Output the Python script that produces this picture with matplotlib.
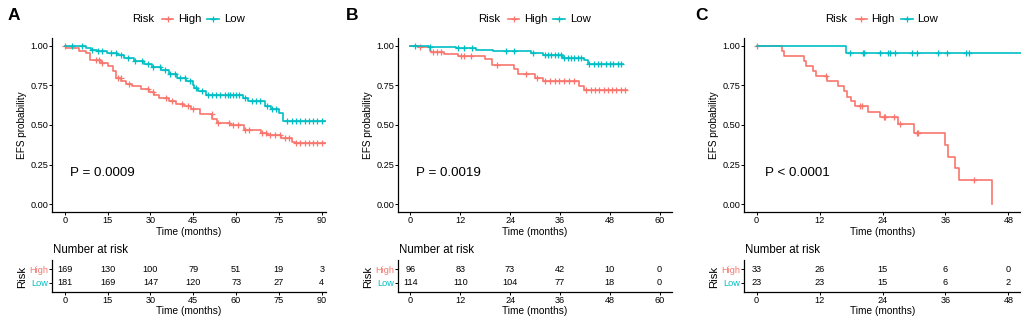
import numpy as np
import matplotlib
matplotlib.use("Agg")
import matplotlib.pyplot as plt
from matplotlib.lines import Line2D

plt.rcParams['font.family'] = ['Liberation Sans', 'DejaVu Sans']

RED = "#F8766D"
TEAL = "#00BFC4"

# ---------------- data ----------------
# panel A
a_high_t = [0, 0.3, 5, 7.3, 8.9, 12.6, 15, 16.7, 17.9, 19.6, 21.4, 23.7, 26.7, 29.6, 31.3, 33.1,
            36.6, 39, 41.9, 44.2, 47.4, 51.7, 53.4, 58, 62.6, 68.6, 71, 75.6, 79.7, 80.5]
a_high_s = [1.0, 0.985, 0.97, 0.955, 0.91, 0.89, 0.875, 0.84, 0.80, 0.78, 0.76, 0.745, 0.725, 0.71, 0.69, 0.67,
            0.65, 0.635, 0.62, 0.60, 0.57, 0.535, 0.514, 0.50, 0.47, 0.45, 0.434, 0.42, 0.394, 0.385]
a_high_cens = [0, 11, 12, 13, 18.5, 19.5, 22.5, 29, 31, 35.5, 37.5, 41, 43, 45, 51.5, 53.5, 57.5, 59, 60.5,
               63, 64.5, 69, 70.5, 72, 73.5, 75.5, 77, 78.5, 81, 82.5, 84, 85.5, 87, 88.5, 90]
a_low_t = [0, 7.3, 9, 11.4, 14.9, 18.3, 20.8, 24.3, 27.8, 30.7, 33.7, 36.6, 39.4, 42.5, 44.8, 45.4,
           46.5, 49.5, 62.3, 64.1, 70, 72.3, 75.2, 76.4]
a_low_s = [1.0, 0.985, 0.975, 0.965, 0.955, 0.94, 0.925, 0.905, 0.885, 0.865, 0.845, 0.82, 0.80, 0.78, 0.755, 0.734,
           0.713, 0.69, 0.67, 0.65, 0.623, 0.604, 0.577, 0.528]
a_low_cens = [2.5, 6, 9.5, 11.5, 13, 16, 18, 19.5, 22, 24.5, 27, 29, 31, 33.5, 35, 37, 38.5, 40.5, 42, 44,
              46, 48, 50, 51.5, 53, 54.5, 56, 57, 58, 59, 60, 61, 63, 65.5, 67, 68.5, 71, 72.5, 74,
              78, 79.5, 81, 82.5, 84, 85.5, 87, 88.5, 90]
a_end = 91.4
a_ticks = [0, 15, 30, 45, 60, 75, 90]
a_risk_high = [169, 130, 100, 79, 51, 19, 3]
a_risk_low = [181, 169, 147, 120, 73, 27, 4]
a_p = "P = 0.0009"

# panel B
b_high_t = [0, 1.8, 4.6, 5, 8.2, 11.4, 18, 19.7, 25, 25.9, 29.9, 31.9, 40.7, 41.7]
b_high_s = [1.0, 0.99, 0.968, 0.96, 0.95, 0.937, 0.918, 0.88, 0.855, 0.82, 0.797, 0.776, 0.744, 0.72]
b_high_cens = [2.2, 5.4, 6.5, 7.4, 12.2, 13, 14.6, 20.9, 27.9, 30.6, 32.3, 33.5, 34.7, 35.9, 37.1, 38.3,
               39.5, 42.3, 43.4, 44.4, 45.5, 46.5, 47.5, 48.6, 49.6, 50.7, 51.7]
b_low_t = [0, 4.5, 11, 15.8, 19.8, 29, 31.9, 36.7, 41.9, 42.7]
b_low_s = [1.0, 0.993, 0.985, 0.975, 0.965, 0.954, 0.94, 0.926, 0.91, 0.888]
b_low_cens = [1, 4.7, 11.4, 13, 14.9, 22.9, 25, 29.5, 32.3, 33.1, 33.9, 34.7, 35.5, 36.3, 37.1, 37.9,
              38.7, 39.5, 40.3, 41.1, 43.1, 44.1, 45.1, 46, 47, 48, 48.9, 49.9, 50.8]
b_end_high = 52.1
b_end_low = 51.2
b_ticks = [0, 12, 24, 36, 48, 60]
b_risk_high = [96, 83, 73, 42, 10, 0]
b_risk_low = [114, 110, 104, 77, 18, 0]
b_p = "P = 0.0019"

# panel C
c_high_t = [0, 4.9, 5.2, 9.0, 9.5, 10.8, 11.3, 13.5, 15.5, 16.7, 17.3, 18.0, 18.8, 21.2, 23.5, 27.0,
            30.0, 36.0, 36.4, 37.9, 38.6, 44.9]
c_high_s = [1.0, 0.97, 0.935, 0.906, 0.874, 0.84, 0.81, 0.778, 0.745, 0.713, 0.68, 0.65, 0.62, 0.585, 0.55, 0.505,
            0.45, 0.375, 0.30, 0.225, 0.15, 0.0]
c_high_cens = [0, 13.2, 19.7, 20.1, 24.2, 24.5, 26.1, 27.3, 30.5, 30.8, 41.5]
c_low_t = [0, 17.1]
c_low_s = [1.0, 0.957]
c_low_cens = [17.8, 20.2, 20.5, 23.5, 25.1, 25.5, 26.4, 29.6, 30.5, 34.5, 36.3, 39.9, 40.4]
c_end_high = 44.9
c_end_low = 52
c_ticks = [0, 12, 24, 36, 48]
c_risk_high = [33, 26, 15, 6, 0]
c_risk_low = [23, 23, 15, 6, 2]
c_p = "P < 0.0001"

# ---------------- figure ----------------
W, H = 1021, 318
fig = plt.figure(figsize=(W / 100, H / 100), dpi=100)


def box(l, t, r, b):
    return [l / W, 1 - b / H, (r - l) / W, (b - t) / H]


def fx(x):
    return x / W


def fy(y):
    return 1 - y / H


def surv_at(times, surv, t):
    i = np.searchsorted(times, t, side='right') - 1
    return surv[max(i, 0)]


def draw_curve(ax, times, surv, end, cens, color):
    x = list(times) + [end]
    y = list(surv) + [surv[-1]]
    ax.step(x, y, where='post', color=color, lw=1.2)
    cy = [surv_at(times, surv, t) for t in cens]
    ax.plot(cens, cy, ls='none', marker='+', ms=3.8, mew=0.9, color=color)


def style_axis(ax):
    for s in ['top', 'right']:
        ax.spines[s].set_visible(False)
    for s in ['left', 'bottom']:
        ax.spines[s].set_linewidth(0.9)
    ax.tick_params(length=2, width=0.7, pad=0.8, labelsize=6.6, colors='black')


panels = [
    dict(letter='A', l=52, r=326, lx=8, px=70, xmax=91.5, ticks=a_ticks,
         high=(a_high_t, a_high_s, a_end, a_high_cens), low=(a_low_t, a_low_s, a_end, a_low_cens),
         rh=a_risk_high, rl=a_risk_low, p=a_p),
    dict(letter='B', l=398, r=672, lx=346, px=416, xmax=63, ticks=b_ticks,
         high=(b_high_t, b_high_s, b_end_high, b_high_cens), low=(b_low_t, b_low_s, b_end_low, b_low_cens),
         rh=b_risk_high, rl=b_risk_low, p=b_p),
    dict(letter='C', l=744, r=1021, lx=695, px=765, xmax=50.4, ticks=c_ticks,
         high=(c_high_t, c_high_s, c_end_high, c_high_cens), low=(c_low_t, c_low_s, c_end_low, c_low_cens),
         rh=c_risk_high, rl=c_risk_low, p=c_p),
]

for p in panels:
    l, r = p['l'], p['r']
    cx = (l + r) / 2
    xmin = -p['ticks'][-1] * 0.05

    # survival curves
    ax = fig.add_axes(box(l, 38, r, 212))
    draw_curve(ax, *p['high'], RED)
    draw_curve(ax, *p['low'], TEAL)
    ax.set_xlim(xmin, p['xmax'])
    ax.set_ylim(-0.05, 1.05)
    ax.set_xticks(p['ticks'])
    ax.set_yticks([0, 0.25, 0.5, 0.75, 1.0])
    ax.set_yticklabels(['0.00', '0.25', '0.50', '0.75', '1.00'])
    style_axis(ax)
    fig.text(fx(p['px']), fy(173), p['p'], fontsize=9.6, va='center', ha='left')
    fig.text(fx(l - 30), fy(125), 'EFS probability', rotation=90, ha='center', va='center', fontsize=7.2)
    fig.text(fx(cx), fy(232), 'Time (months)', ha='center', va='center', fontsize=7.3)

    # panel letter
    fig.text(fx(p['lx']), fy(15), p['letter'], fontsize=12.5, fontweight='bold', ha='left', va='center')

    # legend
    fig.text(fx(cx - 57), fy(19), 'Risk', fontsize=8.2, ha='left', va='center')
    for x0, x1, col, lab in [(cx - 27, cx - 16, RED, 'High'), (cx + 18, cx + 30, TEAL, 'Low')]:
        fig.add_artist(Line2D([fx(x0), fx(x1)], [fy(19), fy(19)], color=col, lw=1.2,
                              transform=fig.transFigure))
        fig.add_artist(Line2D([fx((x0 + x1) / 2)], [fy(19)], color=col, marker='+', ms=3.8, mew=0.9,
                              transform=fig.transFigure))
        fig.text(fx(x1 + 5), fy(19), lab, fontsize=8.2, ha='left', va='center')

    # risk table
    tb = fig.add_axes(box(l, 260, r, 292))
    for t, nh, nl in zip(p['ticks'], p['rh'], p['rl']):
        tb.text(t, 1, str(nh), ha='center', va='center', fontsize=6.6)
        tb.text(t, 0, str(nl), ha='center', va='center', fontsize=6.6)
    tb.set_xlim(xmin, p['xmax'])
    tb.set_ylim(-0.65, 1.65)
    tb.set_xticks(p['ticks'])
    tb.set_yticks([1, 0])
    tb.set_yticklabels(['High', 'Low'])
    style_axis(tb)
    for lbl, col in zip(tb.get_yticklabels(), [RED, TEAL]):
        lbl.set_color(col)
    fig.text(fx(l + 1), fy(250), 'Number at risk', fontsize=8.3, ha='left', va='center')
    fig.text(fx(l - 30), fy(277), 'Risk', rotation=90, ha='center', va='center', fontsize=8.2)
    fig.text(fx(cx), fy(311), 'Time (months)', ha='center', va='center', fontsize=7.3)

fig.savefig('out.png', dpi=100)
